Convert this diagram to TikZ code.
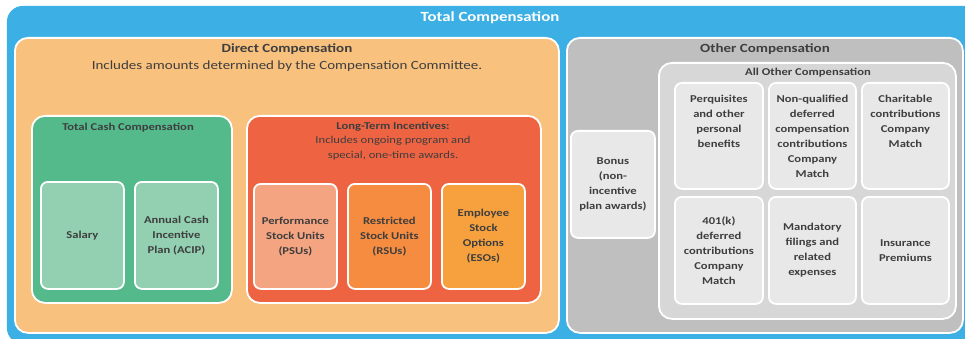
\documentclass[tikz,border=0pt]{standalone}
\usepackage{fontspec}
\setmainfont[FakeStretch=1.2]{Carlito}

\definecolor{tcblue}{RGB}{60,176,228}
\definecolor{dirorange}{RGB}{249,193,126}
\definecolor{cashgreen}{RGB}{84,185,139}
\definecolor{cashtile}{RGB}{146,208,177}
\definecolor{ltired}{RGB}{238,99,66}
\definecolor{psusalmon}{RGB}{244,164,129}
\definecolor{rsuorange}{RGB}{245,140,64}
\definecolor{esoorange}{RGB}{246,161,62}
\definecolor{othgray}{RGB}{191,191,191}
\definecolor{allgray}{RGB}{215,215,215}
\definecolor{tilegray}{RGB}{232,232,232}
\definecolor{txtgray}{RGB}{62,62,62}

\begin{document}
\begin{tikzpicture}[x=1pt,y=1pt,
    panel/.style={draw=white, line width=1.8pt, rounded corners=13pt,
      anchor=north west, inner sep=0pt},
    tile/.style={draw=white, line width=1.8pt, rounded corners=7pt,
      anchor=north west, inner sep=0pt, align=center, text=txtgray,
      font=\fontsize{10.5}{15}\selectfont\bfseries},
    head/.style={text=txtgray, align=center, inner sep=0pt,
      font=\fontsize{10.5}{14.5}\selectfont}]
    \useasboundingbox (0,0) rectangle (965,-339);

    % Total compensation.
    \node[panel, draw=none, fill=tcblue, rounded corners=16pt,
      minimum width=980pt, minimum height=338pt] (total) at (6,-5) {};
    \node[text=white, font=\fontsize{14}{16}\selectfont\bfseries] (totaltitle) at (490,-18) {Total Compensation};

    % Direct compensation.
    \node[panel, fill=dirorange, minimum width=544pt, minimum height=295pt] (direct) at (14,-37) {};
    \node[head, font=\fontsize{12.5}{16}\selectfont\bfseries] (directtitle) at (287,-49) {Direct Compensation};
    \node[head, font=\fontsize{12.5}{16}\selectfont] (directnote) at (287,-66) {Includes amounts determined by the Compensation Committee.};

    % Cash.
    \node[panel, fill=cashgreen, minimum width=200pt, minimum height=187pt] (cash) at (31,-115) {};
    \node[head, font=\fontsize{10.5}{14}\selectfont\bfseries] (cashtitle) at (128,-128) {Total Cash Compensation};
    \node[tile, fill=cashtile, minimum width=83pt, minimum height=107pt] (salary) at (40,-181) {Salary};
    \node[tile, fill=cashtile, minimum width=83pt, minimum height=107pt] (acip) at (134,-181) {Annual Cash\\Incentive\\Plan (ACIP)};

    % Long-term incentives.
    \node[panel, fill=ltired, minimum width=294pt, minimum height=187pt] (lti) at (246,-115) {};
    \node[head] (ltititle) at (393,-141) {\bfseries Long-Term Incentives:\\Includes ongoing program and\\special, one-time awards.};
    \node[tile, fill=psusalmon, minimum width=83pt, minimum height=105pt] (psu) at (253,-183) {Performance\\Stock Units\\(PSUs)};
    \node[tile, fill=rsuorange, minimum width=83pt, minimum height=105pt] (rsu) at (347,-183) {Restricted\\Stock Units\\(RSUs)};
    \node[tile, fill=esoorange, minimum width=83pt, minimum height=105pt] (eso) at (441,-183) {Employee\\Stock\\Options\\(ESOs)};

    % Other compensation.
    \node[panel, fill=othgray, minimum width=396pt, minimum height=295pt] (other) at (566,-37) {};
    \node[head, font=\fontsize{12.5}{16}\selectfont\bfseries] (othertitle) at (765,-49) {Other Compensation};
    \node[tile, fill=tilegray, minimum width=84pt, minimum height=107pt] (bonus) at (570,-130) {Bonus\\(non-\\incentive\\plan awards)};

    % All other compensation.
    \node[panel, fill=allgray, minimum width=297pt, minimum height=256pt] (allother) at (658,-62) {};
    \node[head, font=\fontsize{10.5}{14}\selectfont\bfseries] (allothertitle) at (808,-73) {All Other Compensation};
    \node[tile, fill=tilegray, minimum width=88pt, minimum height=106pt] (perks) at (674,-82) {Perquisites\\and other\\personal\\benefits\\[15pt]};
    \node[tile, fill=tilegray, minimum width=87pt, minimum height=106pt] (nqdc) at (768,-82) {Non-qualified\\deferred\\compensation\\contributions\\Company\\Match};
    \node[tile, fill=tilegray, minimum width=87pt, minimum height=106pt] (charity) at (861,-82) {Charitable\\contributions\\Company\\Match\\[15pt]};
    \node[tile, fill=tilegray, minimum width=88pt, minimum height=107pt] (k401) at (674,-196) {401(k)\\deferred\\contributions\\Company\\Match};
    \node[tile, fill=tilegray, minimum width=87pt, minimum height=107pt] (filings) at (768,-196) {Mandatory\\filings and\\related\\expenses};
    \node[tile, fill=tilegray, minimum width=87pt, minimum height=107pt] (insurance) at (861,-196) {Insurance\\Premiums};

  \end{tikzpicture}
\end{document}
